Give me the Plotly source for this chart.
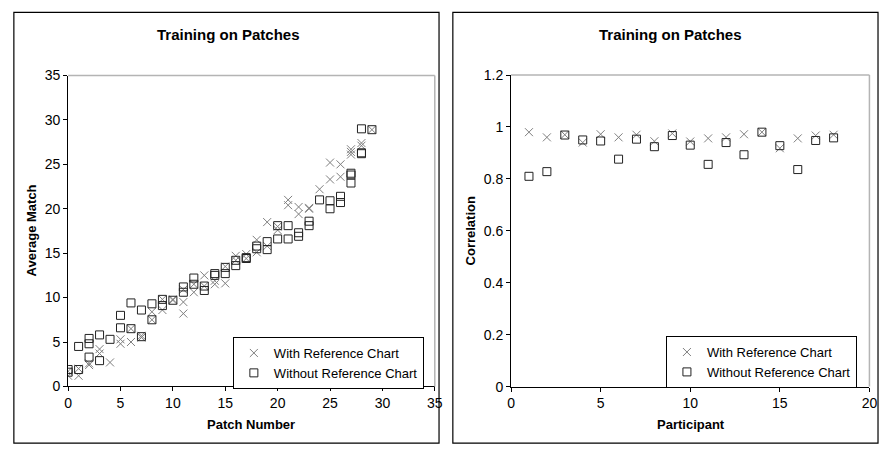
import plotly.graph_objects as go

# ---------------- data: left panel (Patch Number vs Average Match) ----------------
with_patch = [0, 0, 1, 1, 2, 2, 3, 3, 4, 5, 5, 6, 6, 7, 7, 8, 8, 9, 9, 10, 10, 11, 11, 11,
              12, 12, 13, 13, 14, 14, 15, 15, 16, 16, 17, 17, 18, 18, 19, 19, 20, 20, 21, 21,
              22, 22, 23, 23, 24, 25, 25, 26, 26, 27, 27, 27, 28, 28, 29]
with_match = [1.2, 1.7, 1.2, 2.0, 2.4, 2.6, 4.2, 3.7, 2.7, 5.3, 4.8, 6.5, 5.0, 5.7, 5.5, 8.4, 7.5,
              9.8, 8.6, 9.8, 9.7, 10.9, 9.5, 8.2, 11.5, 10.6, 12.5, 11.3, 11.9, 11.5, 13.5, 11.6,
              14.7, 14.2, 14.9, 14.4, 16.5, 15.1, 18.5, 15.8, 17.6, 18.0, 21.0, 20.4, 20.2, 19.4,
              20.0, 20.1, 22.2, 25.2, 23.3, 25.0, 23.6, 26.7, 26.1, 26.4, 27.4, 27.1, 28.9]

without_patch = [0, 0, 1, 1, 2, 2, 2, 3, 3, 4, 5, 5, 6, 6, 7, 7, 8, 8, 9, 9, 10, 11, 11, 12, 12,
                 13, 13, 14, 14, 15, 15, 16, 16, 17, 17, 18, 18, 19, 19, 20, 20, 21, 21, 22, 22,
                 23, 23, 24, 25, 25, 26, 26, 27, 27, 27, 28, 28, 28, 29]
without_match = [1.9, 1.6, 4.5, 1.9, 5.4, 4.8, 3.3, 5.8, 2.9, 5.3, 8.0, 6.6, 9.4, 6.5, 8.6, 5.6,
                 9.3, 7.5, 9.8, 9.1, 9.7, 11.2, 10.6, 12.2, 11.5, 11.3, 10.8, 12.7, 12.5, 13.4,
                 12.7, 14.2, 13.6, 14.5, 14.4, 15.8, 15.5, 16.3, 15.4, 18.1, 16.6, 18.1, 16.6,
                 17.3, 16.9, 18.6, 18.1, 21.0, 20.9, 20.0, 21.4, 20.7, 24.0, 23.8, 22.9, 29.0,
                 26.3, 26.2, 28.9]

# ---------------- data: right panel (Participant vs Correlation) ----------------
participants = list(range(1, 19))
with_corr = [0.98, 0.96, 0.97, 0.94, 0.972, 0.96, 0.97, 0.945, 0.975, 0.944, 0.956, 0.96,
             0.972, 0.98, 0.918, 0.956, 0.967, 0.97]
without_corr = [0.81, 0.828, 0.969, 0.95, 0.946, 0.876, 0.953, 0.924, 0.967, 0.93, 0.856, 0.94,
                0.893, 0.98, 0.928, 0.836, 0.948, 0.958]

series_names = ["With Reference Chart", "Without Reference Chart"]
panel_title = "Training on Patches"

W, H = 887, 452
FONT = "Arial, Liberation Sans, sans-serif"
GRAY = "#7f7f7f"
DARK = "#222222"

def px_x(p):
    return p / W

def px_y(p):
    return 1 - p / H

fig = go.Figure()

x_style = dict(color=GRAY, size=8, symbol="x-thin-open", line=dict(color=GRAY, width=1))
sq_style = dict(color=DARK, size=8, symbol="square-open", line=dict(color=DARK, width=1))

fig.add_trace(go.Scatter(x=with_patch, y=with_match, mode="markers", name=series_names[0],
                         marker=x_style, xaxis="x", yaxis="y", legend="legend"))
fig.add_trace(go.Scatter(x=without_patch, y=without_match, mode="markers", name=series_names[1],
                         marker=sq_style, xaxis="x", yaxis="y", legend="legend"))
fig.add_trace(go.Scatter(x=participants, y=with_corr, mode="markers", name=series_names[0],
                         marker=x_style, xaxis="x2", yaxis="y2", legend="legend2"))
fig.add_trace(go.Scatter(x=participants, y=without_corr, mode="markers", name=series_names[1],
                         marker=sq_style, xaxis="x2", yaxis="y2", legend="legend2"))

axis_common = dict(showgrid=False, zeroline=False, showline=True, linecolor="black", linewidth=1,
                   ticks="outside", ticklen=4, tickcolor="black", ticklabeloverflow="allow",
                   tickfont=dict(family=FONT, size=14, color="black"))

legend_common = dict(xanchor="left", yanchor="bottom", bgcolor="white", bordercolor="black",
                     borderwidth=1, font=dict(family=FONT, size=13, color="black"), itemwidth=30)

fig.update_layout(
    width=W, height=H,
    margin=dict(l=0, r=0, t=0, b=0),
    paper_bgcolor="white", plot_bgcolor="white",
    font=dict(family=FONT, size=13, color="black"),
    xaxis=dict(domain=[px_x(65), px_x(436.7)], range=[0, 35], dtick=5, anchor="y", **axis_common),
    yaxis=dict(domain=[px_y(392.3), px_y(70)], range=[0, 35], dtick=5, anchor="x", **axis_common),
    xaxis2=dict(domain=[px_x(514), px_x(877.3)], range=[0, 20], dtick=5, anchor="y2", **axis_common),
    yaxis2=dict(domain=[px_y(392.5), px_y(69.5)], range=[0, 1.2], dtick=0.2, anchor="x2", **axis_common),
    legend=dict(x=px_x(232), y=px_y(395), **legend_common),
    legend2=dict(x=px_x(671), y=px_y(394), **legend_common),
)

# panel borders
for x0, x1 in [(10, 441), (455, 886)]:
    fig.add_shape(type="rect", xref="paper", yref="paper",
                  x0=px_x(x0), x1=px_x(x1), y0=px_y(451), y1=px_y(4.5),
                  line=dict(color="black", width=1.2), fillcolor="rgba(0,0,0,0)", layer="below")

# gray plot-area border on top and right
for xa, ya in [("x", "y"), ("x2", "y2")]:
    fig.add_shape(type="line", xref=f"{xa} domain", yref=f"{ya} domain", x0=0, x1=1, y0=1, y1=1,
                  line=dict(color="#b4b4b4", width=1.5))
    fig.add_shape(type="line", xref=f"{xa} domain", yref=f"{ya} domain", x0=1, x1=1, y0=0, y1=1,
                  line=dict(color="#b4b4b4", width=1.5))

# titles
annots = [
    dict(text=f"<b>{panel_title}</b>", x=px_x(228), y=px_y(27), size=15),
    dict(text=f"<b>{panel_title}</b>", x=px_x(676), y=px_y(27), size=15),
    dict(text="<b>Patch Number</b>", x=px_x(250), y=px_y(432), size=13),
    dict(text="<b>Participant</b>", x=px_x(696), y=px_y(432), size=13),
]
for a in annots:
    fig.add_annotation(text=a["text"], x=a["x"], y=a["y"], xref="paper", yref="paper",
                       xanchor="center", yanchor="middle", showarrow=False,
                       font=dict(family=FONT, size=a["size"], color="black"))
fig.add_annotation(text="<b>Average Match</b>", x=px_x(28), y=px_y(231), xref="paper", yref="paper",
                   xanchor="center", yanchor="middle", showarrow=False, textangle=-90,
                   font=dict(family=FONT, size=13, color="black"))
fig.add_annotation(text="<b>Correlation</b>", x=px_x(473), y=px_y(231), xref="paper", yref="paper",
                   xanchor="center", yanchor="middle", showarrow=False, textangle=-90,
                   font=dict(family=FONT, size=13, color="black"))

fig.write_html(
    "out.html",
    config={"displayModeBar": False},
    post_script=("document.documentElement.style.margin='0';"
                 "document.documentElement.style.padding='0';"
                 "document.body.style.margin='0';document.body.style.padding='0';"
                 "document.documentElement.style.overflow='hidden';"
                 "document.body.style.overflow='hidden';"),
)
